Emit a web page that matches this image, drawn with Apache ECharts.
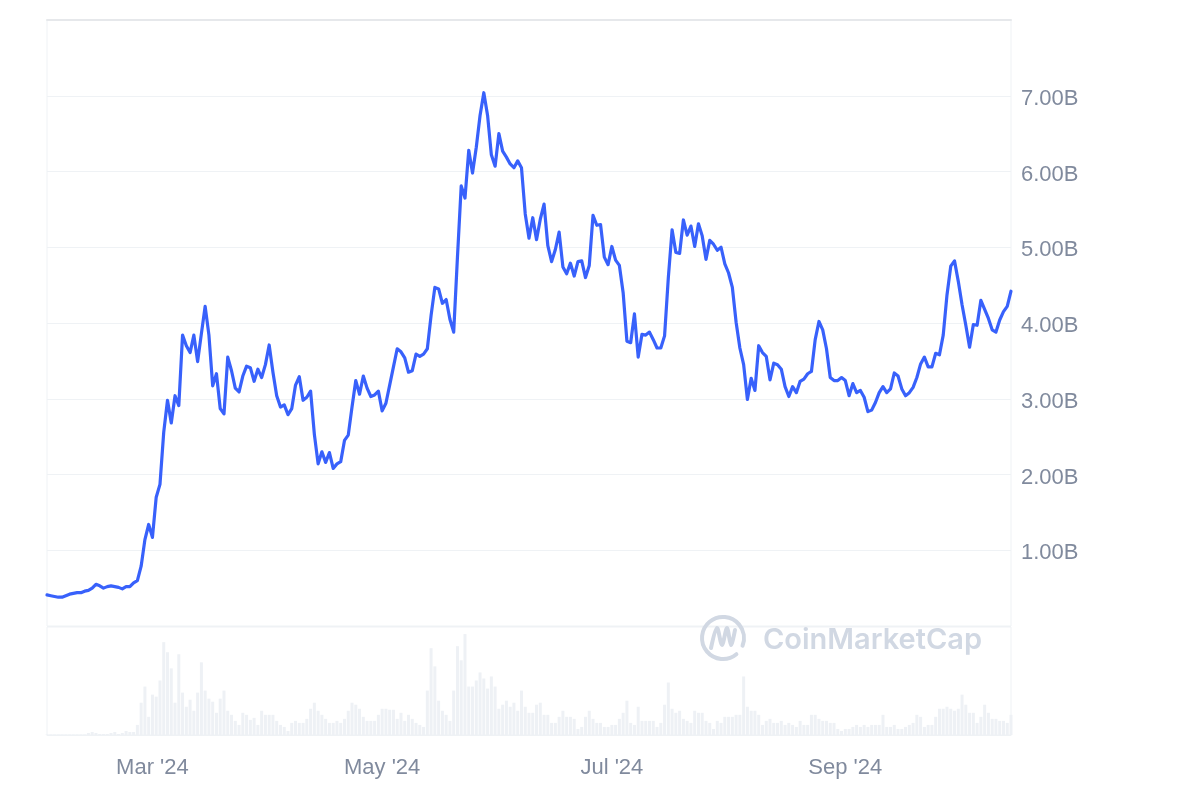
<!DOCTYPE html>
<html>
<head>
<meta charset="utf-8">
<script src="https://cdn.jsdelivr.net/npm/echarts@6.0.0/dist/echarts.min.js"></script>
<style>
html,body{margin:0;padding:0;background:#fff;}
#chart{width:1200px;height:800px;}
</style>
</head>
<body>
<div id="chart"></div>
<script>
// ---- data ----
const startDate = '2024-02-02'; // first daily point
const price = [ // market cap, billions USD, daily
0.41,0.40,0.39,0.38,0.38,0.40,0.42,0.43,0.44,0.44,
0.46,0.47,0.50,0.55,0.53,0.50,0.52,0.53,0.52,0.51,
0.49,0.52,0.52,0.57,0.60,0.79,1.14,1.34,1.17,1.70,
1.87,2.56,2.98,2.68,3.04,2.91,3.84,3.70,3.61,3.84,
3.49,3.86,4.22,3.84,3.17,3.33,2.87,2.80,3.55,3.37,
3.14,3.09,3.30,3.43,3.41,3.23,3.39,3.28,3.45,3.71,
3.35,3.04,2.89,2.92,2.79,2.87,3.18,3.29,2.98,3.02,
3.10,2.53,2.14,2.30,2.16,2.29,2.08,2.14,2.17,2.45,
2.52,2.89,3.24,3.06,3.30,3.14,3.03,3.05,3.10,2.84,
2.94,3.18,3.42,3.66,3.62,3.54,3.35,3.37,3.59,3.56,
3.59,3.66,4.10,4.47,4.45,4.26,4.31,4.05,3.88,4.87,
5.81,5.65,6.28,5.98,6.32,6.74,7.04,6.74,6.22,6.07,
6.50,6.27,6.19,6.10,6.05,6.14,6.05,5.44,5.12,5.39,
5.10,5.37,5.57,5.02,4.81,4.97,5.20,4.74,4.65,4.79,
4.62,4.81,4.82,4.60,4.76,5.42,5.29,5.30,4.87,4.77,
5.01,4.83,4.76,4.40,3.76,3.74,4.12,3.55,3.85,3.84,
3.88,3.78,3.67,3.67,3.83,4.60,5.23,4.93,4.92,5.36,
5.16,5.28,5.01,5.31,5.15,4.84,5.09,5.04,4.96,5.00,
4.78,4.66,4.47,4.01,3.67,3.45,2.99,3.27,3.11,3.70,
3.61,3.56,3.25,3.47,3.45,3.39,3.16,3.03,3.16,3.08,
3.23,3.26,3.33,3.36,3.78,4.02,3.91,3.66,3.28,3.24,
3.24,3.28,3.24,3.04,3.20,3.08,3.11,3.02,2.83,2.85,
2.95,3.08,3.16,3.08,3.13,3.34,3.30,3.13,3.04,3.08,
3.15,3.28,3.46,3.55,3.42,3.42,3.60,3.58,3.84,4.37,
4.75,4.82,4.55,4.24,3.97,3.68,3.98,3.97,4.30,4.18,
4.06,3.91,3.88,4.04,4.15,4.22,4.42
];
const volume = [ // relative daily volume
0.5,0.5,0.5,0.5,0.5,0.5,0.5,0.5,0.5,0.5,
0.5,2,3,2,1,1,1,2,3,1,
2,4,3,3,10,32,48,18,40,38,
54,92,82,66,32,80,42,28,35,24,
42,72,44,36,33,22,36,44,24,20,
14,10,22,20,15,17,10,24,20,20,
20,14,10,8,4,12,14,12,12,16,
26,32,24,20,16,12,12,14,12,16,
24,32,30,26,18,14,14,14,20,26,
26,25,25,16,22,14,20,16,12,10,
8,44,86,68,34,24,20,14,44,88,
74,100,48,48,54,62,56,46,58,48,
26,30,34,28,32,24,44,28,22,22,
30,32,20,20,12,12,18,24,18,18,
16,6,8,18,24,16,12,12,8,8,
10,10,16,22,34,12,10,28,14,14,
14,14,8,12,30,52,26,22,24,16,
14,12,24,22,22,14,12,6,14,12,
18,18,18,20,20,58,28,24,24,20,
10,14,16,12,12,14,10,12,10,8,
14,10,10,20,20,16,14,14,12,12,
6,4,6,6,8,10,8,10,8,10,
10,10,20,8,8,10,6,6,8,10,
12,20,18,8,10,10,18,26,26,28,
26,24,26,40,30,22,22,12,18,30,
22,16,16,14,14,12,20
];
const tickDates = ['2024-03-01','2024-05-01','2024-07-01','2024-09-01'];
const tickLabels = ["Mar '24","May '24","Jul '24","Sep '24"];
const priceTicks = [1,2,3,4,5,6,7];

// ---- build categories ----
const dates = [];
(function(){
  const p = startDate.split('-').map(Number);
  for (let i = 0; i < price.length; i++) {
    const d = new Date(Date.UTC(p[0], p[1]-1, p[2]+i));
    dates.push(d.toISOString().slice(0,10));
  }
})();

const gridColor = '#eff2f5';
const textColor = '#808a9d';
const wm = '#d1d8e3';
const font = '"Liberation Sans", Arial, sans-serif';

const chart = echarts.init(document.getElementById('chart'));
chart.setOption({
  animation: false,
  backgroundColor: '#fff',
  grid: [
    {left:47, top:20, width:964, height:606, show:true, borderColor:gridColor, borderWidth:1, backgroundColor:'transparent'},
    {left:47, top:627, width:964, height:108, show:true, borderColor:gridColor, borderWidth:1, backgroundColor:'transparent'}
  ],
  xAxis: [
    {type:'category', gridIndex:0, data:dates, boundaryGap:false, position:'top',
     axisLine:{show:true, onZero:false, lineStyle:{color:'#e6e8eb', width:2}}, axisTick:{show:false}, axisLabel:{show:false}, splitLine:{show:false}},
    {type:'category', gridIndex:1, data:dates, boundaryGap:false,
     axisLine:{show:true, onZero:false, lineStyle:{color:gridColor}}, axisTick:{show:false}, splitLine:{show:false},
     axisLabel:{
       interval:(idx, val) => tickDates.indexOf(val) >= 0,
       formatter:(val) => { const k = tickDates.indexOf(val); return k >= 0 ? tickLabels[k] : ''; },
       color:textColor, fontSize:22, fontFamily:font, margin:22
     }}
  ],
  yAxis: [
    {type:'value', gridIndex:0, position:'right', min:0, max:8, interval:1,
     axisLine:{show:false}, axisTick:{show:false},
     splitLine:{show:true, lineStyle:{color:gridColor, width:1}},
     axisLabel:{
       formatter:(v) => priceTicks.indexOf(v) >= 0 ? '{a|' + v.toFixed(2) + 'B}' : '',
       rich:{a:{color:textColor, fontSize:22, fontFamily:font, padding:[6,0,0,0]}},
       color:textColor, fontSize:22, fontFamily:font, margin:10
     }},
    {type:'value', gridIndex:1, min:0, max:107, show:false, splitLine:{show:false}}
  ],
  graphic: [
    {type:'arc', silent:true, z:1,
     shape:{cx:723, cy:638, r:21, startAngle:Math.PI*0.28, endAngle:Math.PI*2.12},
     style:{stroke:wm, lineWidth:4, fill:null, lineCap:'round'}},
    {type:'polyline', silent:true, z:1,
     shape:{points:[[711,648],[717,628],[722,645],[727,628],[731,645],[735,630]], smooth:0.3},
     style:{stroke:wm, lineWidth:4, fill:null, lineCap:'round', lineJoin:'round'}},
    {type:'text', silent:true, z:1, x:763, y:640,
     style:{text:'CoinMarketCap', fill:wm, font:'600 29px Inter, "Noto Sans", sans-serif', verticalAlign:'middle'}}
  ],
  series: [
    {type:'bar', xAxisIndex:1, yAxisIndex:1, data:volume, barWidth:3, silent:true,
     itemStyle:{color:'#eef1f5'}},
    {type:'line', xAxisIndex:0, yAxisIndex:0, data:price, showSymbol:false, symbol:'none',
     lineStyle:{color:'#3861fb', width:3.2, join:'round', cap:'round'}, silent:true, z:3}
  ]
});
</script>
</body>
</html>
